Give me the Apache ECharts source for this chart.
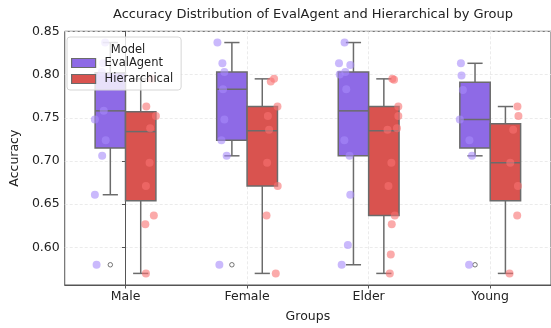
<!DOCTYPE html>
<html>
<head>
<meta charset="utf-8">
<script src="https://cdn.jsdelivr.net/npm/echarts@6/dist/echarts.min.js"></script>
<style>html,body{margin:0;padding:0;background:#fff}#c{width:551px;height:328px}</style>
</head>
<body>
<div id="c"></div>
<script>
// ---- data ----
const groups = ['Male', 'Female', 'Elder', 'Young'];
const models = ['EvalAgent', 'Hierarchical'];
const yTicks = [0.60, 0.65, 0.70, 0.75, 0.80, 0.85];

// box stats per group: [min whisker, Q1, median, Q3, max whisker]
const evalBox = [
  [0.661, 0.715, 0.758, 0.802, 0.837],
  [0.706, 0.724, 0.783, 0.803, 0.837],
  [0.580, 0.706, 0.758, 0.803, 0.837],
  [0.706, 0.715, 0.748, 0.791, 0.813]
];
const hierBox = [
  [0.570, 0.654, 0.734, 0.757, 0.795],
  [0.570, 0.671, 0.735, 0.763, 0.795],
  [0.570, 0.637, 0.735, 0.763, 0.795],
  [0.570, 0.654, 0.698, 0.743, 0.763]
];
// outliers per group
const evalOutliers = [[0.580], [0.580], [], [0.580]];
const hierOutliers = [[], [], [], []];

// individual scores per group and their horizontal jitter (category units)
const evalPoints = [
  [0.837, 0.813, 0.803, 0.758, 0.748, 0.724, 0.706, 0.661, 0.580],
  [0.837, 0.813, 0.803, 0.783, 0.748, 0.724, 0.706, 0.580],
  [0.837, 0.813, 0.811, 0.803, 0.800, 0.783, 0.724, 0.706, 0.661, 0.603, 0.580],
  [0.813, 0.799, 0.782, 0.748, 0.724, 0.706, 0.580]
];
const evalJitter = [
  [0.032, 0.016, 0.005, 0.021, -0.052, 0.037, 0.008, -0.052, -0.038],
  [-0.044, -0.003, 0.013, 0.002, 0.013, -0.011, 0.032, -0.028],
  [0.002, -0.044, 0.049, 0.008, -0.038, 0.016, 0.000, 0.043, 0.049, 0.029, -0.022],
  [-0.041, -0.036, -0.025, -0.050, 0.029, 0.050, 0.026]
];
const hierPoints = [
  [0.795, 0.763, 0.752, 0.738, 0.698, 0.671, 0.637, 0.627, 0.570],
  [0.795, 0.792, 0.763, 0.752, 0.736, 0.698, 0.671, 0.637, 0.570],
  [0.795, 0.794, 0.763, 0.752, 0.738, 0.736, 0.698, 0.671, 0.637, 0.627, 0.592, 0.570],
  [0.763, 0.752, 0.736, 0.698, 0.671, 0.637, 0.570]
];
const hierJitter = [
  [0.017, -0.029, 0.050, 0.003, -0.002, -0.032, 0.033, -0.037, -0.032],
  [0.022, -0.005, 0.050, -0.029, -0.019, -0.035, 0.052, -0.040, 0.036],
  [-0.005, 0.009, 0.044, 0.044, 0.033, -0.045, -0.013, -0.037, 0.015, -0.010, -0.018, -0.026],
  [0.024, 0.032, -0.011, -0.035, 0.028, 0.022, -0.041]
];

// ---- styling ----
const FONT = 'DejaVu Sans';
const boxColors = ['#8e6ae6', '#d9534f'];
const pointColors = ['#a78bfa', '#f87171'];
const lineColor = '#6b6b6b';
const BOX_HALF = 0.125;   // half box width in category units
const BOX_SHIFT = 0.125;  // box dodge
const STRIP_SHIFT = 0.2;  // strip dodge

function boxData(stats, sign) {
  return stats.map((s, i) => [i + sign * BOX_SHIFT].concat(s));
}
function pointData(vals, jit, sign) {
  const out = [];
  vals.forEach((arr, i) => arr.forEach((v, k) => out.push([i + sign * STRIP_SHIFT + jit[i][k], v])));
  return out;
}
function outlierData(outs, sign) {
  const out = [];
  outs.forEach((arr, i) => arr.forEach(v => out.push([i + sign * BOX_SHIFT, v])));
  return out;
}

function makeRender(color) {
  return function (params, api) {
    const x = api.value(0);
    const mn = api.coord([x, api.value(1)]);
    const q1 = api.coord([x, api.value(2)]);
    const md = api.coord([x, api.value(3)]);
    const q3 = api.coord([x, api.value(4)]);
    const mx = api.coord([x, api.value(5)]);
    const hw = api.size([BOX_HALF, 0])[0];
    const cx = md[0];
    const ls = { stroke: lineColor, lineWidth: 1.5 };
    return {
      type: 'group',
      children: [
        { type: 'line', shape: { x1: cx, y1: q1[1], x2: cx, y2: mn[1] }, style: ls },
        { type: 'line', shape: { x1: cx, y1: q3[1], x2: cx, y2: mx[1] }, style: ls },
        { type: 'line', shape: { x1: cx - hw / 2, y1: mn[1], x2: cx + hw / 2, y2: mn[1] }, style: ls },
        { type: 'line', shape: { x1: cx - hw / 2, y1: mx[1], x2: cx + hw / 2, y2: mx[1] }, style: ls },
        { type: 'rect', shape: { x: cx - hw, y: q3[1], width: 2 * hw, height: q1[1] - q3[1] },
          style: { fill: color, stroke: lineColor, lineWidth: 1.5 } },
        { type: 'line', shape: { x1: cx - hw, y1: md[1], x2: cx + hw, y2: md[1] }, style: ls }
      ]
    };
  };
}

const chart = echarts.init(document.getElementById('c'), null, { renderer: 'canvas' });
chart.setOption({
  animation: false,
  backgroundColor: '#fff',
  textStyle: { fontFamily: FONT },
  title: [
    { text: 'Accuracy Distribution of EvalAgent and Hierarchical by Group', left: 308, top: 3,
      textAlign: 'center',
      textStyle: { fontFamily: FONT, fontSize: 13, fontWeight: 'normal', color: '#222' } },
    { text: 'Model', left: 123, top: 39, textAlign: 'center', zlevel: 2,
      textStyle: { fontFamily: FONT, fontSize: 11.5, fontWeight: 'normal', color: '#222' } }
  ],
  legend: {
    orient: 'vertical', left: 67, top: 37, zlevel: 1,
    padding: [20, 8, 5, 4], itemGap: 4,
    itemWidth: 24, itemHeight: 9,
    backgroundColor: 'rgba(255,255,255,0.8)', borderColor: '#d6d6d6', borderWidth: 1, borderRadius: 3,
    textStyle: { fontFamily: FONT, fontSize: 11.5, color: '#222', padding: [0, 0, 0, 4] },
    data: models.map((m, i) => ({
      name: m, icon: 'rect',
      itemStyle: { color: boxColors[i], borderColor: lineColor, borderWidth: 1.2 }
    }))
  },
  grid: { left: 61.6, right: -3, top: 31.3, bottom: 40, containLabel: false,
    show: true, borderColor: '#555', borderWidth: 1, backgroundColor: 'transparent' },
  xAxis: {
    type: 'value', min: -0.5, max: 3.5,
    name: 'Groups', nameLocation: 'middle', nameGap: 25,
    nameTextStyle: { fontFamily: FONT, fontSize: 12.5, color: '#222' },
    axisLine: { show: true, lineStyle: { color: '#555', width: 1 } },
    axisTick: { show: true, length: 3.5, customValues: [0, 1, 2, 3], lineStyle: { color: '#555' } },
    axisLabel: { customValues: [0, 1, 2, 3], margin: 5, fontFamily: FONT, fontSize: 12.5, color: '#222',
      formatter: v => groups[Math.round(v)] },
    splitLine: { show: true, lineStyle: { color: '#e6e6e6', type: [3, 2], width: 0.8 } }
  },
  yAxis: {
    type: 'value', min: 0.5566, max: 0.85,
    name: 'Accuracy', nameLocation: 'middle', nameGap: 40,
    nameTextStyle: { fontFamily: FONT, fontSize: 12.5, color: '#222' },
    axisLine: { show: true, lineStyle: { color: '#555', width: 1 } },
    axisTick: { show: true, length: 3.5, customValues: yTicks, lineStyle: { color: '#555' } },
    axisLabel: { customValues: yTicks, margin: 5, fontFamily: FONT, fontSize: 12.5, color: '#222',
      formatter: v => v.toFixed(2) },
    splitLine: { show: true, lineStyle: { color: '#e6e6e6', type: [3, 2], width: 0.8 } }
  },
  series: [
    { name: models[0], type: 'custom', renderItem: makeRender(boxColors[0]),
      itemStyle: { color: boxColors[0] }, encode: { x: 0, y: [1, 2, 3, 4, 5] },
      data: boxData(evalBox, -1), z: 2 },
    { name: models[1], type: 'custom', renderItem: makeRender(boxColors[1]),
      itemStyle: { color: boxColors[1] }, encode: { x: 0, y: [1, 2, 3, 4, 5] },
      data: boxData(hierBox, 1), z: 2 },
    { name: models[0] + ' outliers', type: 'scatter', symbol: 'circle', symbolSize: 4.5,
      itemStyle: { color: '#fff', borderColor: '#555', borderWidth: 1 },
      data: outlierData(evalOutliers, -1), z: 3 },
    { name: models[1] + ' outliers', type: 'scatter', symbol: 'circle', symbolSize: 4.5,
      itemStyle: { color: '#fff', borderColor: '#555', borderWidth: 1 },
      data: outlierData(hierOutliers, 1), z: 3 },
    { name: models[0], type: 'scatter', symbolSize: 8,
      itemStyle: { color: pointColors[0], opacity: 0.6 },
      data: pointData(evalPoints, evalJitter, -1), z: 4 },
    { name: models[1], type: 'scatter', symbolSize: 8,
      itemStyle: { color: pointColors[1], opacity: 0.6 },
      data: pointData(hierPoints, hierJitter, 1), z: 4 }
  ]
});
</script>
</body>
</html>
